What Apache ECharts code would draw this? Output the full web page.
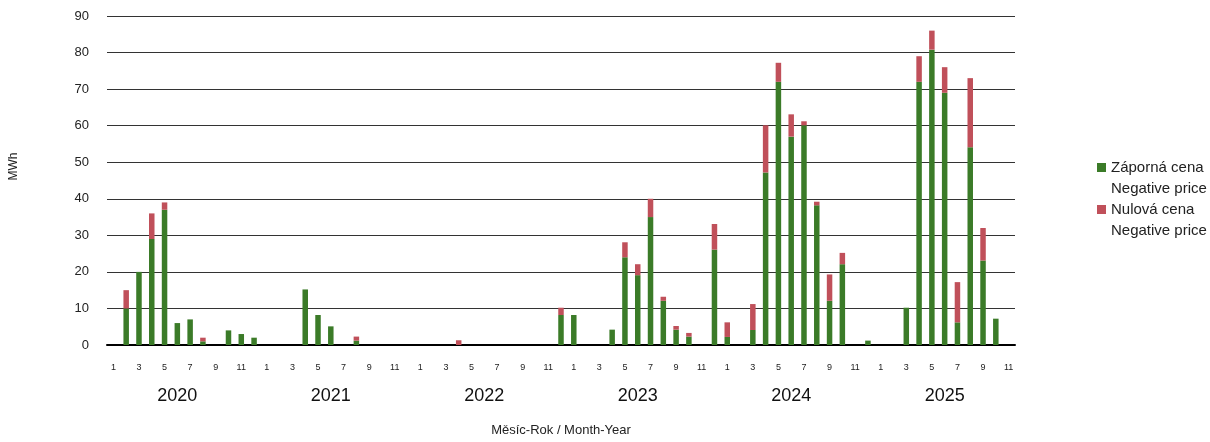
<!DOCTYPE html>
<html>
<head>
<meta charset="utf-8">
<script src="https://cdn.jsdelivr.net/npm/echarts@6/dist/echarts.min.js"></script>
<style>
html,body{margin:0;padding:0;background:#fff;}
#chart{width:1210px;height:442px;}
</style>
</head>
<body>
<div id="chart"></div>
<script>
// Categories: Jan 2020 .. Nov 2025
const years = ['2020', '2021', '2022', '2023', '2024', '2025'];
const monthsInYear = [12, 12, 12, 12, 12, 11];
const yTicks = [0, 10, 20, 30, 40, 50, 60, 70, 80, 90];

// Záporná cena (negative price), MWh per month
const green2020 = [0, 10, 20, 29, 37, 6, 7, 1, 0, 4, 3, 2];
const green2021 = [0, 0, 0, 15.2, 8.2, 5.1, 0, 1.2, 0, 0, 0, 0];
const green2022 = [0, 0, 0, 0, 0, 0, 0, 0, 0, 0, 0, 8.2];
const green2023 = [8.2, 0, 0, 4.2, 24, 19.1, 35, 12.1, 4.2, 2.3, 0, 26.1];
const green2024 = [2.2, 0, 4.1, 47.2, 72, 57, 60.1, 38.2, 12.1, 22.1, 0, 1.2];
const green2025 = [0, 0, 10.2, 72, 80.8, 69, 6.2, 54.1, 23.1, 7.2, 0];

// Nulová cena (zero price), MWh per month
const red2020 = [0, 5, 0, 7, 2, 0, 0, 1, 0, 0, 0, 0];
const red2021 = [0, 0, 0, 0, 0, 0, 0, 1.1, 0, 0, 0, 0];
const red2022 = [0, 0, 0, 1.3, 0, 0, 0, 0, 0, 0, 0, 2];
const red2023 = [0, 0, 0, 0, 4.1, 3, 5, 1.1, 1, 1, 0, 7];
const red2024 = [4, 0, 7.1, 12.9, 5.2, 6.1, 1.1, 1, 7.2, 3.1, 0, 0];
const red2025 = [0, 0, 0, 7, 5.2, 7, 11, 18.9, 8.9, 0, 0];

const seriesNames = ['Záporná cena\nNegative price', 'Nulová cena\nNegative price'];

const categories = [];
years.forEach((y, i) => {
  for (let m = 1; m <= monthsInYear[i]; m++) categories.push(m + '|' + y);
});
const greenData = [].concat(green2020, green2021, green2022, green2023, green2024, green2025);
const redData = [].concat(red2020, red2021, red2022, red2023, red2024, red2025);

const FONT = "'Liberation Sans', Arial, Helvetica, sans-serif";
const chart = echarts.init(document.getElementById('chart'), null, {renderer: 'canvas'});
chart.setOption({
  animation: false,
  textStyle: {fontFamily: FONT, color: '#222'},
  grid: {left: 106, right: 195, top: 16, bottom: 95, containLabel: false},
  legend: {
    orient: 'vertical',
    left: 1092,
    top: 131,
    icon: 'rect',
    itemWidth: 9,
    itemHeight: 9,
    itemGap: -21,
    itemTextGap: 6,
    formatter: (name) => '\n' + name,
    textStyle: {fontFamily: FONT, fontSize: 15, color: '#222', lineHeight: 21},
    data: seriesNames
  },
  xAxis: [
    {
      type: 'category',
      data: categories,
      boundaryGap: true,
      axisLine: {lineStyle: {color: '#000', width: 2}},
      axisTick: {show: false},
      axisLabel: {
        interval: (idx) => (idx % 12) % 2 === 0,
        formatter: (v) => v.split('|')[0],
        fontSize: 9,
        color: '#222',
        margin: 18,
        fontFamily: FONT
      },
      name: 'Měsíc-Rok / Month-Year',
      nameLocation: 'middle',
      nameGap: 79,
      nameTextStyle: {fontSize: 13, color: '#222', fontFamily: FONT}
    },
    {
      type: 'category',
      data: categories,
      position: 'bottom',
      offset: 34,
      boundaryGap: true,
      axisLine: {show: false},
      axisTick: {show: false},
      splitLine: {show: false},
      axisLabel: {
        interval: (idx) => (idx % 12) === 5,
        formatter: (v) => v.split('|')[1],
        fontSize: 18,
        color: '#111',
        margin: 8,
        fontFamily: FONT
      }
    }
  ],
  yAxis: {
    type: 'value',
    min: yTicks[0],
    max: yTicks[yTicks.length - 1],
    interval: 10,
    axisLine: {show: false},
    axisTick: {show: false},
    axisLabel: {fontSize: 13, color: '#222', margin: 18, fontFamily: FONT},
    splitLine: {lineStyle: {color: '#333', width: 1}},
    name: 'MWh',
    nameLocation: 'middle',
    nameGap: 87,
    nameTextStyle: {fontSize: 12, color: '#222', fontFamily: FONT, padding: [0, 0, 0, 28]}
  },
  series: [
    {
      name: seriesNames[0],
      type: 'bar',
      stack: 'total',
      data: greenData,
      barWidth: 5.5,
      itemStyle: {color: '#3b7b28'}
    },
    {
      name: seriesNames[1],
      type: 'bar',
      stack: 'total',
      data: redData,
      barWidth: 5.5,
      itemStyle: {color: '#c0505a'}
    }
  ]
});
</script>
</body>
</html>
